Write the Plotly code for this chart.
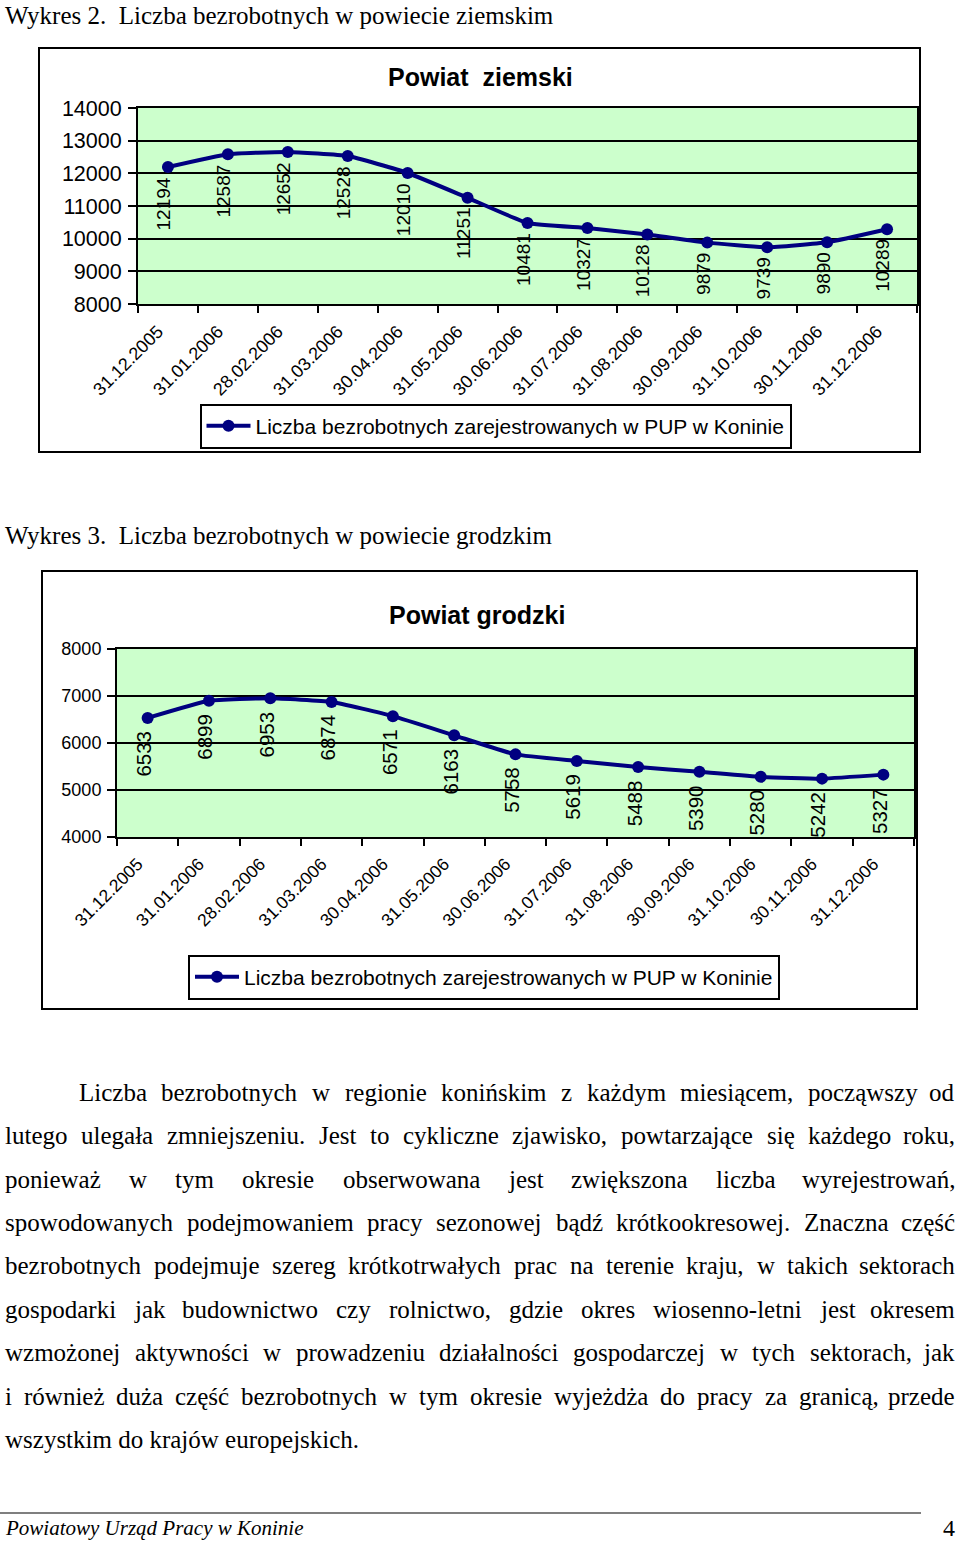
import plotly.graph_objects as go

# ---------------- data ----------------
categories = ["31.12.2005", "31.01.2006", "28.02.2006", "31.03.2006", "30.04.2006",
              "31.05.2006", "30.06.2006", "31.07.2006", "31.08.2006", "30.09.2006",
              "31.10.2006", "30.11.2006", "31.12.2006"]
ziemski = [12194, 12587, 12652, 12528, 12010, 11251, 10481, 10327, 10128, 9879, 9739, 9890, 10289]
grodzki = [6533, 6899, 6953, 6874, 6571, 6163, 5758, 5619, 5488, 5390, 5280, 5242, 5327]
ziemski_ticks = [8000, 9000, 10000, 11000, 12000, 13000, 14000]
grodzki_ticks = [4000, 5000, 6000, 7000, 8000]
series_name = "Liczba bezrobotnych zarejestrowanych w PUP w Koninie"
title1 = "Powiat\u00a0 ziemski"
title2 = "Powiat grodzki"
heading1 = "Wykres 2.\u00a0 Liczba bezrobotnych w powiecie ziemskim"
heading2 = "Wykres 3.\u00a0 Liczba bezrobotnych w powiecie grodzkim"
paragraph_lines = [
    "Liczba bezrobotnych w regionie konińskim z każdym miesiącem, począwszy od",
    "lutego ulegała zmniejszeniu. Jest to cykliczne zjawisko, powtarzające się każdego roku,",
    "ponieważ w tym okresie obserwowana jest zwiększona liczba wyrejestrowań,",
    "spowodowanych podejmowaniem pracy sezonowej bądź krótkookresowej. Znaczna część",
    "bezrobotnych podejmuje szereg krótkotrwałych prac na terenie kraju, w takich sektorach",
    "gospodarki jak budownictwo czy rolnictwo, gdzie okres wiosenno-letni jest okresem",
    "wzmożonej aktywności w prowadzeniu działalności gospodarczej w tych sektorach, jak",
    "i również duża część bezrobotnych w tym okresie wyjeżdża do pracy za granicą, przede",
    "wszystkim do krajów europejskich.",
]
footer_text = "Powiatowy Urząd Pracy w Koninie"
page_number = "4"

# ---------------- style ----------------
W, H = 960, 1541
NAVY = "#000080"
GREEN = "#CCFFCC"
SANS = "Liberation Sans, Arial, sans-serif"
SERIF = "Liberation Serif, Times New Roman, serif"


def px(x):
    return x / W


def py(y):
    return 1 - y / H


fig = go.Figure()
fig.add_trace(go.Scatter(
    x=categories, y=ziemski, mode="lines+markers", name=series_name,
    line=dict(color=NAVY, width=4, shape="spline", smoothing=0.4),
    marker=dict(size=12, color=NAVY), xaxis="x", yaxis="y", legend="legend",
    hoverinfo="skip"))
fig.add_trace(go.Scatter(
    x=categories, y=grodzki, mode="lines+markers", name=series_name,
    line=dict(color=NAVY, width=4, shape="spline", smoothing=0.4),
    marker=dict(size=12, color=NAVY), xaxis="x2", yaxis="y2", legend="legend2",
    hoverinfo="skip"))

common_x = dict(type="category", range=[-0.5, len(categories) - 0.5], tickson="boundaries",
                ticks="outside", ticklen=7, tickwidth=2, tickcolor="black",
                showline=True, linecolor="black", linewidth=2, mirror=True,
                showgrid=False, tickangle=-45, fixedrange=True, automargin=False,
                ticklabelstandoff=8, ticklabelshift=-10)
common_y = dict(ticks="outside", ticklen=8, tickwidth=2, tickcolor="black",
                showline=True, linecolor="black", linewidth=2, mirror=True,
                showgrid=True, gridcolor="black", gridwidth=2, zeroline=False,
                tickformat="d", fixedrange=True, automargin=False, ticklabelstandoff=2)

fig.update_layout(
    template="none",
    width=W, height=H, margin=dict(l=0, r=0, t=0, b=0, pad=0, autoexpand=False),
    paper_bgcolor="white", plot_bgcolor=GREEN,
    font=dict(family=SANS, color="black"),
    xaxis=dict(domain=[px(138), px(917)], anchor="y",
               tickfont=dict(family=SANS, size=18, color="black"), **common_x),
    yaxis=dict(domain=[py(304), py(108)], anchor="x", range=[8000, 14000],
               tickvals=ziemski_ticks, tickfont=dict(family=SANS, size=21.5, color="black"),
               **common_y),
    xaxis2=dict(domain=[px(117), px(914)], anchor="y2",
                tickfont=dict(family=SANS, size=17.5, color="black"), **common_x),
    yaxis2=dict(domain=[py(837), py(649)], anchor="x2", range=[4000, 8000],
                tickvals=grodzki_ticks, tickfont=dict(family=SANS, size=18, color="black"),
                **common_y),
    legend=dict(x=px(495.5), y=py(426), xanchor="center", yanchor="middle",
                bordercolor="black", borderwidth=2, bgcolor="white", itemwidth=44,
                font=dict(family=SANS, size=21, color="black")),
    legend2=dict(x=px(484), y=py(977), xanchor="center", yanchor="middle",
                 bordercolor="black", borderwidth=2, bgcolor="white", itemwidth=44,
                 font=dict(family=SANS, size=21, color="black")),
    showlegend=True,
)

shapes = [
    dict(type="rect", xref="paper", yref="paper", x0=px(39), x1=px(920), y0=py(452), y1=py(48),
         line=dict(color="black", width=2)),
    dict(type="rect", xref="paper", yref="paper", x0=px(42), x1=px(917), y0=py(1009), y1=py(571),
         line=dict(color="black", width=2)),
    dict(type="line", xref="paper", yref="paper", x0=0, x1=px(921), y0=py(1513), y1=py(1513),
         line=dict(color="#555555", width=1.5)),
]
fig.update_layout(shapes=shapes)

ann = []
ann.append(dict(text="<b>" + title1 + "</b>", x=px(480), y=py(77), xref="paper", yref="paper",
                showarrow=False, font=dict(family=SANS, size=25, color="black"),
                xanchor="center", yanchor="middle"))
ann.append(dict(text="<b>" + title2 + "</b>", x=px(477), y=py(615), xref="paper", yref="paper",
                showarrow=False, font=dict(family=SANS, size=25, color="black"),
                xanchor="center", yanchor="middle"))

for c, v in zip(categories, ziemski):
    ann.append(dict(text=str(v), x=c, y=v, xref="x", yref="y", showarrow=False,
                    textangle=-90, xanchor="center", yanchor="top", yshift=-9, xshift=-4,
                    font=dict(family=SANS, size=19, color="black")))
for c, v in zip(categories, grodzki):
    ann.append(dict(text=str(v), x=c, y=v, xref="x2", yref="y2", showarrow=False,
                    textangle=-90, xanchor="center", yanchor="top", yshift=-12, xshift=-4,
                    font=dict(family=SANS, size=20.5, color="black")))

# headings
ann.append(dict(text=heading1, x=px(4), y=py(0.5), xref="paper", yref="paper", showarrow=False,
                xanchor="left", yanchor="top", font=dict(family=SERIF, size=25, color="black")))
ann.append(dict(text=heading2, x=px(4), y=py(535), xref="paper", yref="paper", showarrow=False,
                xanchor="left", yanchor="middle", font=dict(family=SERIF, size=25, color="black")))

# justified paragraph (Times metrics, per 1000 em)
TW = {' ': 250, 'a': 444, 'b': 500, 'c': 444, 'd': 500, 'e': 444, 'f': 333, 'g': 500, 'h': 500,
      'i': 278, 'j': 278, 'k': 500, 'l': 278, 'm': 778, 'n': 500, 'o': 500, 'p': 500, 'q': 500,
      'r': 333, 's': 389, 't': 278, 'u': 500, 'v': 500, 'w': 722, 'x': 500, 'y': 500, 'z': 444,
      'ą': 444, 'ć': 444, 'ę': 444, 'ł': 278, 'ń': 500, 'ó': 500, 'ś': 389, 'ź': 444, 'ż': 444,
      'J': 389, 'L': 611, 'Z': 611, 'W': 944, 'P': 556, 'U': 722, 'K': 722,
      ',': 250, '.': 250, '-': 333}
PFS = 25


def wwidth(word):
    return sum(TW.get(ch, 500) for ch in word) * PFS / 1000.0


line_y = [1092, 1135, 1179, 1222, 1265, 1309, 1352, 1396, 1439]
for i, (line, yy) in enumerate(zip(paragraph_lines, line_y)):
    left = 78 if i == 0 else 4
    right = 956
    words = line.split(" ")
    if i == len(paragraph_lines) - 1:
        ann.append(dict(text=line, x=px(left), y=py(yy), xref="paper", yref="paper",
                        showarrow=False, xanchor="left", yanchor="middle",
                        font=dict(family=SERIF, size=PFS, color="black")))
        continue
    widths = [wwidth(w) for w in words]
    gap = (right - left - sum(widths)) / (len(words) - 1)
    xpos = left
    for j, (w, wd) in enumerate(zip(words, widths)):
        if j == len(words) - 1:
            ann.append(dict(text=w, x=px(right), y=py(yy), xref="paper", yref="paper",
                            showarrow=False, xanchor="right", yanchor="middle",
                            font=dict(family=SERIF, size=PFS, color="black")))
        else:
            ann.append(dict(text=w, x=px(xpos), y=py(yy), xref="paper", yref="paper",
                            showarrow=False, xanchor="left", yanchor="middle",
                            font=dict(family=SERIF, size=PFS, color="black")))
        xpos += wd + gap

# footer
ann.append(dict(text="<i>" + footer_text + "</i>", x=px(4), y=py(1528), xref="paper", yref="paper",
                showarrow=False, xanchor="left", yanchor="middle",
                font=dict(family=SERIF, size=21, color="black")))
ann.append(dict(text=page_number, x=px(956), y=py(1528), xref="paper", yref="paper",
                showarrow=False, xanchor="right", yanchor="middle",
                font=dict(family=SERIF, size=24, color="black")))

for a in ann:
    a.setdefault("borderpad", 0)
fig.update_layout(annotations=ann)

fig.write_html("out.html")
